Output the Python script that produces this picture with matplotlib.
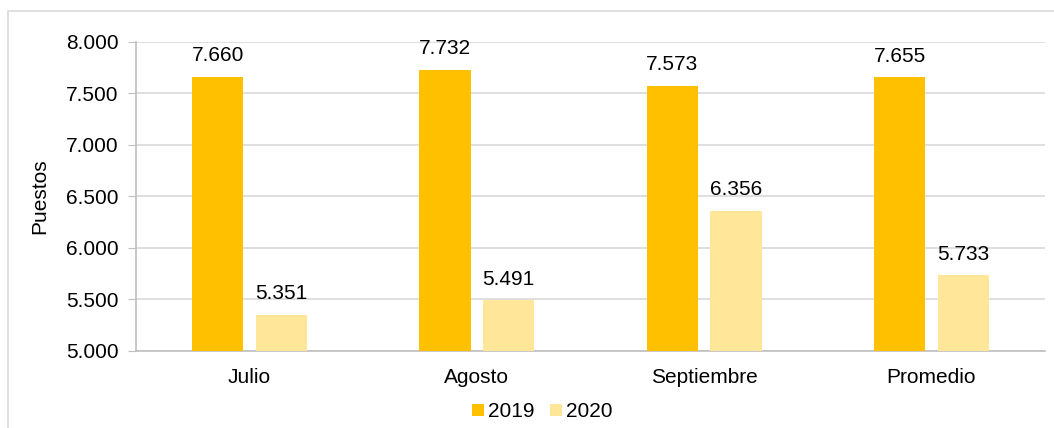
import numpy as np
import matplotlib.pyplot as plt
from matplotlib.patches import Rectangle

plt.rcParams['font.family'] = ['Liberation Sans', 'DejaVu Sans']

meses = ['Julio', 'Agosto', 'Septiembre', 'Promedio']
v2019 = [7660, 7732, 7573, 7655]
v2020 = [5351, 5491, 6356, 5733]
c2019 = '#FFC000'
c2020 = '#FFE699'


def fmt(v):
    return f'{v:,.0f}'.replace(',', '.')


fig = plt.figure(figsize=(10.54, 4.28), dpi=100)
ax = fig.add_axes([0.129, 0.180, 0.8625, 0.722])

# marco exterior del grafico (cortado a la derecha y abajo como en el original)
fig.patches.append(Rectangle((8 / 1054, -0.1), 1.2, 1 - 11 / 428 + 0.1,
                             transform=fig.transFigure, fill=False,
                             edgecolor='#d9d9d9', linewidth=1.2))

x = np.arange(len(meses))
w = 0.225
off = 0.14
b1 = ax.bar(x - off, v2019, w, color=c2019, label='2019', zorder=3)
b2 = ax.bar(x + off, v2020, w, color=c2020, label='2020', zorder=3)

for bars, vals in ((b1, v2019), (b2, v2020)):
    for r, v in zip(bars, vals):
        ax.text(r.get_x() + r.get_width() / 2, v + 115, fmt(v),
                ha='center', va='bottom', fontsize=15)

ax.set_ylim(5000, 8000)
ax.set_xlim(-0.5, 3.5)
ax.set_yticks(np.arange(5000, 8001, 500))
ax.set_yticklabels([fmt(t) for t in np.arange(5000, 8001, 500)])
ax.set_xticks(x)
ax.set_xticklabels(meses)
ax.tick_params(axis='both', labelsize=15, colors='black')
ax.tick_params(axis='y', length=5.5, color='#bfbfbf', pad=7)
ax.tick_params(axis='x', length=0, pad=12)
ax.grid(axis='y', color='#d9d9d9', linewidth=1.2, zorder=0)
for s in ['top', 'right']:
    ax.spines[s].set_visible(False)
ax.spines['left'].set_color('#bfbfbf')
ax.spines['bottom'].set_color('#bfbfbf')
ax.spines['left'].set_linewidth(1.2)
ax.spines['bottom'].set_linewidth(1.2)
ax.set_ylabel('Puestos', fontsize=15, labelpad=12)

ax.legend(loc='center', bbox_to_anchor=(0.447, -0.197), ncol=2,
          frameon=False, fontsize=15, handlelength=0.55, handleheight=0.55,
          handletextpad=0.2, columnspacing=0.75)

fig.savefig('out.png', dpi=100)
